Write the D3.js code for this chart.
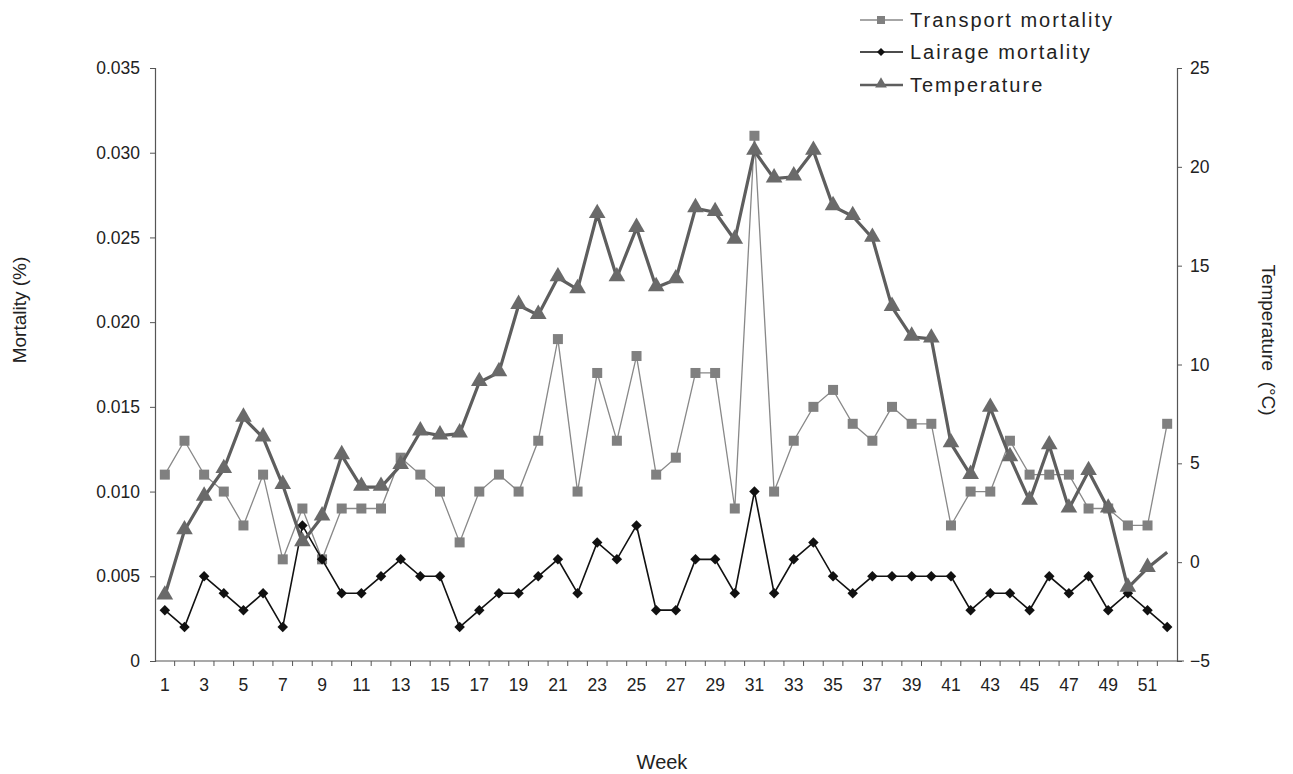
<!DOCTYPE html>
<html>
<head>
<meta charset="utf-8">
<script src="https://cdn.jsdelivr.net/npm/d3@7"></script>
<style>
  body { margin: 0; background: #fff; }
  text { font-family: "Liberation Sans", Arial, sans-serif; fill: #222; }
</style>
</head>
<body>
<svg id="main" width="1293" height="774"></svg>
<script>
// weekly data
var weeks = d3.range(1, 53);
var transport = [0.011, 0.013, 0.011, 0.010, 0.008, 0.011, 0.006, 0.009, 0.006, 0.009,
                 0.009, 0.009, 0.012, 0.011, 0.010, 0.007, 0.010, 0.011, 0.010, 0.013,
                 0.019, 0.010, 0.017, 0.013, 0.018, 0.011, 0.012, 0.017, 0.017, 0.009,
                 0.031, 0.010, 0.013, 0.015, 0.016, 0.014, 0.013, 0.015, 0.014, 0.014,
                 0.008, 0.010, 0.010, 0.013, 0.011, 0.011, 0.011, 0.009, 0.009, 0.008,
                 0.008, 0.014];
var lairage = [0.003, 0.002, 0.005, 0.004, 0.003, 0.004, 0.002, 0.008, 0.006, 0.004,
               0.004, 0.005, 0.006, 0.005, 0.005, 0.002, 0.003, 0.004, 0.004, 0.005,
               0.006, 0.004, 0.007, 0.006, 0.008, 0.003, 0.003, 0.006, 0.006, 0.004,
               0.010, 0.004, 0.006, 0.007, 0.005, 0.004, 0.005, 0.005, 0.005, 0.005,
               0.005, 0.003, 0.004, 0.004, 0.003, 0.005, 0.004, 0.005, 0.003, 0.004,
               0.003, 0.002];
var temperature = [-1.7, 1.6, 3.3, 4.7, 7.3, 6.3, 3.9, 1.0, 2.3, 5.4,
                   3.8, 3.8, 4.9, 6.6, 6.4, 6.5, 9.1, 9.6, 13.0, 12.5,
                   14.4, 13.8, 17.6, 14.4, 16.9, 13.9, 14.3, 17.9, 17.7, 16.3,
                   20.8, 19.4, 19.5, 20.8, 18.0, 17.5, 16.4, 12.9, 11.4, 11.3,
                   6.0, 4.4, 7.8, 5.3, 3.1, 5.9, 2.7, 4.6, 2.7, -1.3,
                   -0.3, 0.5];
var leftTicks = [0, 0.005, 0.010, 0.015, 0.020, 0.025, 0.030, 0.035];
var rightTicks = [-5, 0, 5, 10, 15, 20, 25];
var seriesNames = ["Transport mortality", "Lairage mortality", "Temperature"];

var svg = d3.select("#main");
var plotL = 155, plotR = 1177, plotT = 68, plotB = 661;

var x = d3.scaleBand().domain(weeks).range([plotL, plotR]);
var y = d3.scaleLinear().domain([0, 0.035]).range([plotB, plotT]);
var y2 = d3.scaleLinear().domain([-5, 25]).range([plotB, plotT]);
var cx = function(w) { return x(w) + x.bandwidth() / 2; };

// axes
var leftAxis = d3.axisLeft(y).tickValues(leftTicks).tickSize(5).tickPadding(10)
    .tickFormat(function(d) { return d === 0 ? "0" : d3.format(".3f")(d); });
var gl = svg.append("g").attr("transform", "translate(" + plotL + ",0)").call(leftAxis);

var rightAxis = d3.axisRight(y2).tickValues(rightTicks).tickSize(5).tickPadding(8);
var gr = svg.append("g").attr("transform", "translate(" + plotR + ",0)").call(rightAxis);

var bottomAxis = d3.axisBottom(x).tickValues(weeks.filter(function(w) { return w % 2 === 1; }))
    .tickSize(0).tickPadding(18);
var gb = svg.append("g").attr("transform", "translate(0," + plotB + ")").call(bottomAxis);
gb.select(".domain").attr("d", "M" + plotL + ",0H" + (plotR + 7));
// small tick marks between the weeks
gb.selectAll(".sep").data(weeks.slice(1)).enter().append("line")
    .attr("x1", function(w) { return x(w); }).attr("x2", function(w) { return x(w); })
    .attr("y1", 0).attr("y2", 5).attr("stroke", "#555");

[gl, gr, gb].forEach(function(g) {
  g.select(".domain").attr("stroke", "#555").attr("stroke-width", 1.2);
  g.selectAll(".tick line").attr("stroke", "#555");
  g.selectAll(".tick text").style("font-size", "17.5px").style("font-family", "Liberation Sans, Arial, sans-serif").attr("fill", "#222");
});

// axis titles
svg.append("text").attr("transform", "translate(26,310) rotate(-90)")
    .attr("text-anchor", "middle").style("font-size", "19px").text("Mortality (%)");
svg.append("text").attr("transform", "translate(1262,340) rotate(90)")
    .attr("text-anchor", "middle").style("font-size", "19px").attr("xml:space", "preserve")
    .text("Temperature  (°C)");
svg.append("text").attr("x", 662).attr("y", 769)
    .attr("text-anchor", "middle").style("font-size", "20px").text("Week");

// series
var transportLine = d3.line().x(function(d, i) { return cx(weeks[i]); }).y(function(d) { return y(d); });
var tempLine = d3.line().x(function(d, i) { return cx(weeks[i]); }).y(function(d) { return y2(d); });

svg.append("path").attr("d", transportLine(transport))
    .attr("fill", "none").attr("stroke", "#888").attr("stroke-width", 1.3);
svg.selectAll(".sq").data(transport).enter().append("rect")
    .attr("x", function(d, i) { return cx(weeks[i]) - 5; })
    .attr("y", function(d) { return y(d) - 5; })
    .attr("width", 10).attr("height", 10).attr("fill", "#808080");

svg.append("path").attr("d", transportLine(lairage))
    .attr("fill", "none").attr("stroke", "#111").attr("stroke-width", 1.6);
var diamond = d3.symbol().type(d3.symbolDiamond2).size(70);
svg.selectAll(".dm").data(lairage).enter().append("path")
    .attr("d", diamond)
    .attr("transform", function(d, i) { return "translate(" + cx(weeks[i]) + "," + y(d) + ")"; })
    .attr("fill", "#111");

svg.append("path").attr("d", tempLine(temperature))
    .attr("fill", "none").attr("stroke", "#5e5e5e").attr("stroke-width", 3.2)
    .attr("stroke-linejoin", "round");
var tri = d3.symbol().type(d3.symbolTriangle).size(120);
svg.selectAll(".tr").data(temperature.slice(0, 51)).enter().append("path")
    .attr("d", tri)
    .attr("transform", function(d, i) { return "translate(" + cx(weeks[i]) + "," + (y2(d) - 1) + ")"; })
    .attr("fill", "#6a6a6a");

// legend
var legendY = [20, 52, 85];
var lg = svg.append("g");
seriesNames.forEach(function(name, i) {
  var ly = legendY[i];
  var col = i === 0 ? "#888" : (i === 1 ? "#111" : "#5e5e5e");
  lg.append("line").attr("x1", 860).attr("x2", 903).attr("y1", ly).attr("y2", ly)
    .attr("stroke", col).attr("stroke-width", i === 2 ? 2.5 : 1.3);
  if (i === 0) {
    lg.append("rect").attr("x", 877).attr("y", ly - 4).attr("width", 8).attr("height", 8).attr("fill", "#808080");
  } else if (i === 1) {
    lg.append("path").attr("d", d3.symbol().type(d3.symbolDiamond2).size(40))
      .attr("transform", "translate(881," + ly + ")").attr("fill", "#111");
  } else {
    lg.append("path").attr("d", d3.symbol().type(d3.symbolTriangle).size(60))
      .attr("transform", "translate(881," + (ly - 1) + ")").attr("fill", "#6a6a6a");
  }
  lg.append("text").attr("x", 910).attr("y", ly + 7)
    .style("font-size", "20px").style("letter-spacing", "2px").text(name);
});
</script>
</body>
</html>
